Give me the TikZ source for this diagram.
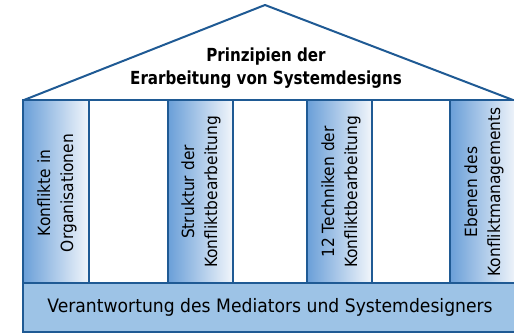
\documentclass[tikz,border=0pt]{standalone}
\usepackage{fontspec}
\setmainfont{DejaVu Sans}[FakeStretch=0.92]
\newfontfamily\basefont{DejaVu Sans}[FakeStretch=0.93]
\newfontfamily\rooffont{DejaVu Sans}[FakeStretch=0.84]
\begin{document}
\definecolor{frameblue}{HTML}{1F5A94}
\definecolor{pillarblue}{HTML}{6A9FD8}
\definecolor{pillarpale}{HTML}{F2F6FB}
\definecolor{basefill}{HTML}{9DC3E6}
\begin{tikzpicture}[x=1pt,y=-1pt,
  frame/.style={draw=frameblue,line width=2pt},
  pillar/.style={left color=pillarblue,right color=pillarpale},
  pillartext/.style={rotate=90,align=center,font=\fontsize{16.8}{23}\selectfont,inner sep=0pt},
  rooftext/.style={align=center,font=\rooffont\bfseries\fontsize{18}{23}\selectfont,inner sep=0pt},
  basetext/.style={font=\basefont\fontsize{18.5}{20}\selectfont,inner sep=0pt}]
\useasboundingbox (0,0) rectangle (514,336);
% roof
\coordinate (eaveL) at (24,100);
\coordinate (apex) at (265,5);
\coordinate (eaveR) at (513,100);
\draw[frame,line join=round] (eaveL) -- (apex) -- (eaveR);
\node[rooftext] (title) at (266,68) {Prinzipien der\\Erarbeitung von Systemdesigns};
% column band
\draw[frame,fill=white] (23,100) rectangle (517,283);
% pillars
\shade[pillar] (23,100) rectangle (89,283);
\shade[pillar] (168,100) rectangle (233,283);
\shade[pillar] (307,100) rectangle (372,283);
\shade[pillar] (450,100) rectangle (517,283);
\draw[frame] (23,100) rectangle (89,283);
\draw[frame] (168,100) rectangle (233,283);
\draw[frame] (307,100) rectangle (372,283);
\draw[frame] (450,100) rectangle (517,283);
\node[pillartext] (p1) at (57,193) {Konflikte in\\Organisationen};
\node[pillartext] (p2) at (201,192) {Struktur der\\Konfliktbearbeitung};
\node[pillartext] (p3) at (341,192) {12 Techniken der\\Konfliktbearbeitung};
\node[pillartext] (p4) at (484,192) {Ebenen des\\Konfliktmanagements};
% base
\draw[frame,fill=basefill] (23,283) rectangle (517,332);
\node[basetext] (base) at (270,307) {Verantwortung des Mediators und Systemdesigners};
\end{tikzpicture}
\end{document}
